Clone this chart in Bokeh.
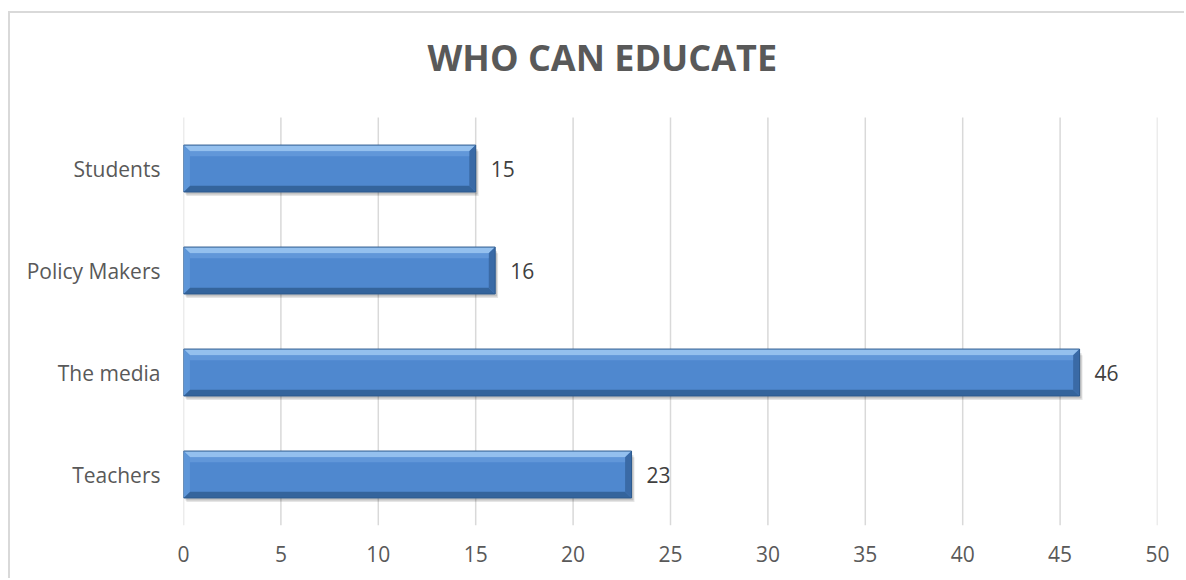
from bokeh.plotting import figure
from bokeh.models import Range1d, FixedTicker, ColumnDataSource, Label
from bokeh.core.properties import value
from bokeh.embed import file_html
from bokeh.resources import INLINE

# ---- data ----
categories = ["Teachers", "The media", "Policy Makers", "Students"]  # bottom -> top
values = [23, 46, 16, 15]
x_ticks = [0, 5, 10, 15, 20, 25, 30, 35, 40, 45, 50]
title_text = "WHO CAN EDUCATE"

FONT = "Open Sans"
GREY = "#595959"

n = len(categories)
y_lo, y_hi = -0.5, n - 0.5          # category band
head = 1.02                          # room above the bars for the title (category units)

p = figure(width=1176, height=567, output_backend="svg", toolbar_location=None,
           title=None,
           x_range=Range1d(0, 50), y_range=Range1d(y_lo, y_hi + head),
           min_border_left=173, min_border_right=29, min_border_top=0, min_border_bottom=55,
           margin=(11, 0, 0, 8),
           styles={"border-left": "2px solid #d9d9d9", "border-top": "2px solid #d9d9d9"})
p.outline_line_color = None
p.background_fill_color = "white"
p.border_fill_color = "white"

# title (inside the frame, above the category band)
p.add_layout(Label(x=21.5, y=y_hi + 0.588, text=title_text,
                   text_align="center", text_baseline="middle", text_font=FONT,
                   text_font_size="36px", text_font_style="bold", text_color=GREY))

# axes
p.xaxis.ticker = FixedTicker(ticks=x_ticks)
p.xaxis.axis_line_color = None
p.xaxis.major_tick_line_color = None
p.xaxis.minor_tick_line_color = None
p.xaxis.major_label_text_font = FONT
p.xaxis.major_label_text_font_size = "21px"
p.xaxis.major_label_text_color = GREY
p.xaxis.major_label_standoff = 14

p.yaxis.ticker = FixedTicker(ticks=list(range(n)))
p.yaxis.major_label_overrides = {i: c for i, c in enumerate(categories)}
p.yaxis.axis_line_color = None
p.yaxis.major_tick_line_color = None
p.yaxis.minor_tick_line_color = None
p.yaxis.major_label_text_font = FONT
p.yaxis.major_label_text_font_size = "21px"
p.yaxis.major_label_text_color = GREY
p.yaxis.major_label_standoff = 17

p.xgrid.grid_line_color = None
p.ygrid.grid_line_color = None
# vertical gridlines limited to the category band
p.segment(x0=x_ticks, y0=[y_lo] * len(x_ticks), x1=x_ticks, y1=[y_hi] * len(x_ticks),
          line_color="#d9d9d9", line_width=1.5)

# ---- bevelled bars ----
h = 0.23      # half bar height (category units)
bx = 0.33     # bevel width (x units)
by = 0.06     # bevel height (category units)
ys = list(range(n))

# shadow
p.quad(left=[0.15] * n, right=[v + 0.15 for v in values],
       bottom=[y - h - 0.04 for y in ys], top=[y + h - 0.06 for y in ys],
       fill_color="#000000", fill_alpha=0.10, line_color=None)
p.quad(left=[0.1] * n, right=[v + 0.1 for v in values],
       bottom=[y - h - 0.025 for y in ys], top=[y + h - 0.04 for y in ys],
       fill_color="#000000", fill_alpha=0.15, line_color=None)

# main body
p.quad(left=[0] * n, right=values,
       bottom=[y - h for y in ys], top=[y + h for y in ys],
       fill_color="#4f88cf", line_color=None)

top_x, top_y, bot_x, bot_y, lft_x, lft_y, rgt_x, rgt_y = [], [], [], [], [], [], [], []
for v, y in zip(values, ys):
    top_x.append([0, v, v - bx, bx]); top_y.append([y + h, y + h, y + h - by, y + h - by])
    bot_x.append([0, v, v - bx, bx]); bot_y.append([y - h, y - h, y - h + by, y - h + by])
    lft_x.append([0, 0, bx, bx]); lft_y.append([y - h, y + h, y + h - by, y - h + by])
    rgt_x.append([v, v, v - bx, v - bx]); rgt_y.append([y - h, y + h, y + h - by, y - h + by])

p.patches(top_x, top_y, fill_color="#94c0ee", line_color=None)
p.patches(bot_x, bot_y, fill_color="#34649c", line_color=None)
p.patches(lft_x, lft_y, fill_color="#5e96d8", line_color=None)
p.patches(rgt_x, rgt_y, fill_color="#3a6aa6", line_color=None)
# subtle upper highlight in body
p.quad(left=[bx] * n, right=[v - bx for v in values],
       bottom=[y + h - by - 0.05 for y in ys], top=[y + h - by for y in ys],
       fill_color="#6ea2e0", fill_alpha=0.6, line_color=None)
# outline
p.quad(left=[0] * n, right=values,
       bottom=[y - h for y in ys], top=[y + h for y in ys],
       fill_color=None, line_color="#2d5a8e", line_width=1)

# data labels
src = ColumnDataSource(dict(x=values, y=ys, t=[str(v) for v in values]))
p.text(x="x", y="y", text="t", source=src, x_offset=15, text_baseline="middle",
       text_align="left", text_font=value(FONT), text_font_size="21px", text_color="#404040")

open("out.html", "w").write(file_html(p, INLINE))
